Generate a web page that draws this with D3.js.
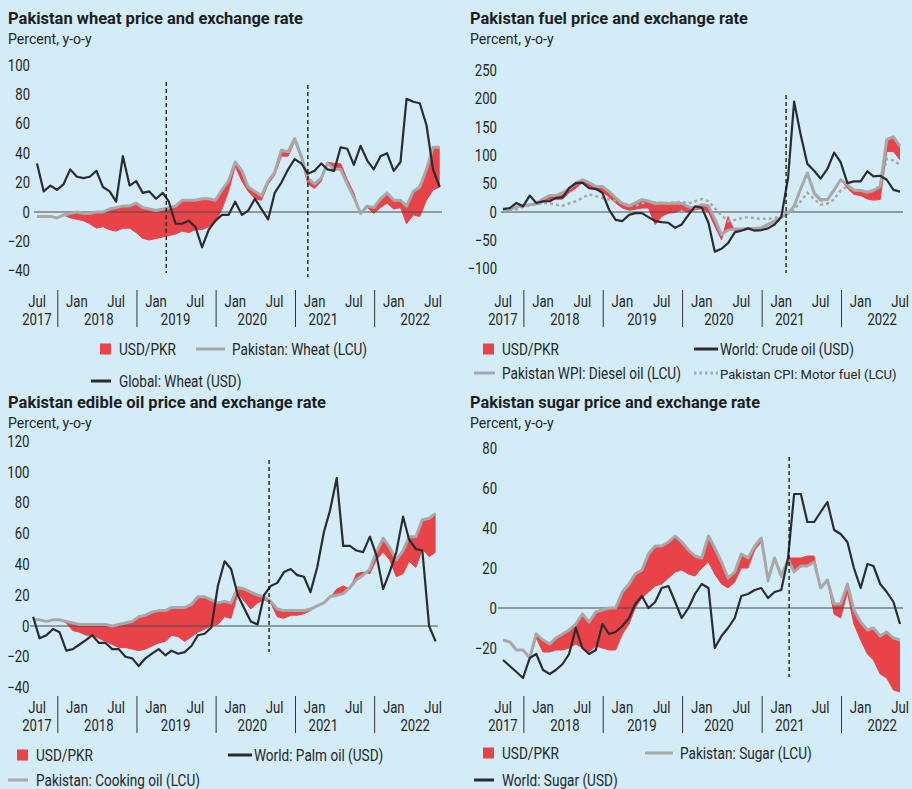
<!DOCTYPE html>
<html>
<head>
<meta charset="utf-8">
<script src="https://cdn.jsdelivr.net/npm/d3@7"></script>
<style>
  html, body { margin: 0; padding: 0; background: #d3ecf7; }
  svg { display: block; font-family: Roboto, sans-serif; }
</style>
</head>
<body>
<svg id="chart" width="912" height="789"></svg>
<script>
// ---- data (percent, y-o-y) ----

// wheat: Jul 2017 .. Aug 2022
const wheatLcu = [-3,-3,-3,-4,-2,-1,0,-1,-1,0, 0,2,3,4,4,6,3,2,1,2, 3,4,8,8,8,9,9,8,15,21,
  34,28,17,14,11,21,27,42,41,50, 38,23,19,23,33,29,29,19,10,-1, 4,3,9,13,8,8,4,14,17,29, 44,44];
const wheatUsd = [-3,-3,-3,-4,-2,-4,-5,-6,-8,-11, -10,-12,-13,-11,-11,-14,-18,-19,-18,-17,
  -16,-15,-13,-14,-12,-12,-10,-7,2,14, 31,21,14,9,8,19,25,38,38,48, 36,19,16,21,34,33,33,22,13,-1,
  3,-1,3,6,2,3,-8,-2,-3,8, 15,17];
const wheatGlobal = [33,14,18,15,19,29,24,23,24,28, 17,14,7,38,18,21,13,14,9,13, 7,-8,-8,-6,-10,-24,-12,-6,-2,-2,
  7,-2,1,9,2,-5,13,20,29,36, 33,26,28,33,29,28,44,43,32,45, 35,29,38,40,28,34,77,75,74,59, 29,17];

// fuel: Jul 2017 .. Jul 2022
const fuelDiesel = [5,4,9,11,13,15,23,29,29,34, 41,51,57,52,45,45,36,25,15,11, 16,22,19,15,16,15,16,15,9,7,
  13,11,-12,-40,-32,-30,-30,-29,-29,-28, -22,-16,-9,-2,10,42,69,34,22,22, 39,57,48,39,38,35,38,45,128,133, 116];
const fuelDieselUsd = [5,4,9,11,13,13,17,22,22,23, 34,42,52,42,39,36,26,16,7,3, 5,7,7,-22,-8,-2,-1,4,-1,4,
  6,0,-25,-49,-8,-34,-32,-31,-31,-29, -24,-18,-11,-2,13,42,66,31,19,22, 36,57,42,31,29,23,21,22,107,107, 92];
const fuelMotor = [3,3,5,9,11,13,16,15,13,11, 15,19,25,31,28,25,22,19,16,11, 11,15,19,17,16,16,17,18,15,19,
  23,19,7,-6,-16,-14,-11,-9,-11,-12, -12,-11,-6,-2,4,19,34,23,13,15, 22,38,45,38,38,36,39,45,94,91, 83];
const fuelCrude = [5,7,16,10,29,16,19,19,25,26, 42,51,52,42,41,34,4,-14,-16,-5, -2,-2,-9,-16,-18,-19,-28,-22,-5,10,
  8,-19,-70,-65,-55,-36,-33,-29,-33,-32, -29,-22,-9,60,195,135,85,73,59,76, 105,88,51,54,54,72,63,64,57,39, 36];

// edible oil: Jun 2017 .. Jul 2022 (mid-month)
const oilLcu = [4,4,3,4,4,3,2,1,1,1, 1,1,0,1,2,3,6,7,9,10, 10,12,12,12,14,19,19,17,15,16,
  15,25,24,22,20,19,16,11,10,10, 10,10,11,13,15,19,20,21,25,30, 33,37,48,57,51,43,49,58,58,69, 70,73];
const oilUsd = [4,4,3,4,4,2,-3,-4,-6,-6, -8,-10,-12,-14,-14,-15,-16,-15,-13,-11, -10,-6,-7,-10,-7,-4,-2,0,1,6,
  5,21,16,11,15,17,15,6,5,7, 7,8,10,13,15,18,24,26,24,34, 35,34,43,48,43,32,34,42,38,50, 45,48];
const oilPalm = [6,-8,-6,-2,-4,-16,-15,-12,-9,-6, -11,-11,-15,-15,-20,-21,-26,-21,-18,-15,
  -19,-16,-18,-17,-13,-6,-5,-1,26,42, 37,20,11,3,1,20,26,28,35,37, 33,32,22,38,61,75,96,52,52,49,
  48,58,46,24,35,48,71,56,50,49, 0,-10];

// sugar: Jul 2017 .. Jul 2022
const sugarLcu = [-16,-17,-21,-21,-25,-13,-16,-18,-15,-13, -11,-8,-3,-7,-2,-1,0,0,8,12, 17,19,27,31,31,33,36,33,29,26,
  25,36,30,23,15,18,27,25,31,35, 14,25,16,24,18,21,21,23,10,14, 2,2,12,-1,-7,-11,-10,-14,-12,-15, -16];
const sugarUsd = [-16,-17,-21,-21,-25,-15,-22,-22,-21,-21, -20,-18,-20,-22,-19,-20,-21,-21,-13,-8, 0,5,8,11,12,15,18,19,17,16,
  20,23,17,12,10,13,20,20,29,33, 13,24,15,25,25,25,26,26,10,14, -3,-5,8,-8,-16,-23,-26,-33,-35,-41, -42];
const sugarWorld = [-26,-29,-32,-35,-25,-23,-31,-33,-31,-28, -23,-10,-20,-23,-21,-8,-13,-12,-9,-5, 2,6,0,3,10,11,3,-5,0,7,
  12,10,-20,-14,-10,-5,6,7,9,10, 5,8,9,25,57,57,43,43,48,53, 39,37,33,20,10,22,21,12,8,3, -8];

// axis ticks
const wheatTicks = [-40,-20,0,20,40,60,80,100];
const fuelTicks = [-100,-50,0,50,100,150,200,250];
const oilTicks = [-40,-20,0,20,40,60,80,100,120];
const sugarTicks = [-20,0,20,40,60,80];
const yearLabels = [['2017', new Date(2017,6,1)], ['2018', new Date(2018,3,12)], ['2019', new Date(2019,3,1)],
  ['2020', new Date(2020,2,20)], ['2021', new Date(2021,1,10)], ['2022', new Date(2022,3,10)]];

const red = '#e9434a', grey = '#a8a8a8', ink = '#2b2c32';
const svg = d3.select('#chart');

const monthsJul17 = d3.timeMonth.range(new Date(2017,6,1), new Date(2022,8,1));
const monthsJun17 = d3.timeMonth.range(new Date(2017,5,1), new Date(2022,7,1)).map(d => d3.timeDay.offset(d, 12));

function squeeze(sel, f) {
  sel.each(function () {
    const len = this.getComputedTextLength();
    d3.select(this).attr('textLength', len * f).attr('lengthAdjust', 'spacingAndGlyphs');
  });
}

function drawPanel(cfg) {
  const g = svg.append('g');
  const x = d3.scaleTime().domain([new Date(2017,6,1), new Date(2022,6,1)]).range(cfg.xRange);
  const y = d3.scaleLinear().domain(cfg.yDomain).range(cfg.yRange);
  const dates = cfg.dates.slice(0, cfg.lcu.length);

  g.append('text').attr('x', cfg.left).attr('y', cfg.top)
    .attr('font-size', 17).attr('font-weight', 700).attr('fill', '#1e1e1e')
    .attr('textLength', cfg.titleW).attr('lengthAdjust', 'spacingAndGlyphs')
    .text(cfg.title);
  g.append('text').attr('x', cfg.left).attr('y', cfg.top + 20)
    .attr('font-size', 15.5).attr('fill', '#262626')
    .text('Percent, y-o-y').call(squeeze, 0.91);

  // y labels
  g.append('g')
    .attr('transform', `translate(${cfg.yAxisX},0)`)
    .call(d3.axisLeft(y).tickValues(cfg.yTicks).tickSize(0).tickPadding(0))
    .call(a => a.select('.domain').remove())
    .attr('font-size', null).attr('font-family', null)
    .selectAll('text').attr('font-size', 16).attr('fill', '#262626').call(squeeze, 0.82);

  // red band between local-currency and dollar series
  const rows = dates.map((d, i) => ({ d, a: cfg.lcu[i], b: cfg.usd[i] }));
  g.append('path').datum(rows).attr('fill', red)
    .attr('d', d3.area().x(r => x(r.d)).y0(r => y(r.a)).y1(r => y(r.b)));
  // thin outline so a one-sided spike still shows
  g.append('path').datum(rows).attr('fill', 'none').attr('stroke', red).attr('stroke-width', 1)
    .attr('d', d3.line().x(r => x(r.d)).y(r => y(r.b)));

  g.append('line').attr('x1', cfg.zeroX[0]).attr('x2', cfg.zeroX[1])
    .attr('y1', y(0)).attr('y2', y(0)).attr('stroke', '#4a4a4a').attr('stroke-width', 1);

  const line = d3.line().x((v, i) => x(dates[i])).y(v => y(v));
  if (cfg.dotted) {
    g.append('path').datum(cfg.dotted).attr('fill', 'none').attr('stroke', grey)
      .attr('stroke-width', 2.5).attr('stroke-dasharray', '3,3').attr('d', line);
  }
  g.append('path').datum(cfg.lcu).attr('fill', 'none').attr('stroke', grey)
    .attr('stroke-width', 3).attr('stroke-linejoin', 'round').attr('d', line);
  g.append('path').datum(cfg.world).attr('fill', 'none').attr('stroke', ink)
    .attr('stroke-width', 2.2).attr('stroke-linejoin', 'round').attr('d', line);

  // policy markers
  cfg.events.forEach(e => {
    g.append('line').attr('x1', x(e.d)).attr('x2', x(e.d)).attr('y1', e.y[0]).attr('y2', e.y[1])
      .attr('stroke', '#111').attr('stroke-width', 1.3).attr('stroke-dasharray', '4,3');
  });

  // x labels
  const ticks = d3.timeMonth.every(6).range(new Date(2017,6,1), new Date(2022,7,1));
  g.selectAll('.mlab').data(ticks).join('text')
    .attr('x', d => x(d)).attr('y', cfg.monthY).attr('text-anchor', 'middle')
    .attr('font-size', 16).attr('fill', '#262626').text(d3.timeFormat('%b')).call(squeeze, 0.82);
  g.selectAll('.ylab').data(yearLabels).join('text')
    .attr('x', d => x(d[1])).attr('y', cfg.monthY + 18).attr('text-anchor', 'middle')
    .attr('font-size', 16).attr('fill', '#262626').text(d => d[0]).call(squeeze, 0.82);
  g.selectAll('.sep').data(d3.range(2017, 2022)).join('line')
    .attr('x1', d => x(new Date(d, 9, 5))).attr('x2', d => x(new Date(d, 9, 5)))
    .attr('y1', cfg.monthY - 17).attr('y2', cfg.monthY + 20)
    .attr('stroke', '#333').attr('stroke-width', 1);

  // legend
  cfg.legend.forEach(it => {
    if (it.kind === 'rect') {
      g.append('rect').attr('x', it.x0).attr('y', it.y - 5.5).attr('width', 11).attr('height', 11).attr('fill', red);
    } else {
      g.append('line').attr('x1', it.x0).attr('x2', it.x1).attr('y1', it.y).attr('y2', it.y)
        .attr('stroke', it.kind === 'black' ? ink : grey).attr('stroke-width', 3)
        .attr('stroke-dasharray', it.kind === 'dots' ? '2.5,3' : null);
    }
    g.append('text').attr('x', it.tx).attr('y', it.y + 5.5)
      .attr('font-size', it.fs || 16).attr('fill', '#262626').text(it.label).call(squeeze, it.sq || 0.85);
  });
}

drawPanel({
  title: 'Pakistan wheat price and exchange rate', titleW: 295, left: 8, top: 24,
  xRange: [37, 433], yDomain: [-40, 100], yRange: [270.8, 65], yTicks: wheatTicks, yAxisX: 30,
  zeroX: [34, 442], dates: monthsJul17, lcu: wheatLcu, usd: wheatUsd, world: wheatGlobal,
  events: [{ d: new Date(2019,1,17), y: [82, 273] }, { d: new Date(2020,11,1), y: [85, 277] }],
  monthY: 307,
  legend: [
    { kind: 'rect', x0: 100, y: 349, tx: 119, label: 'USD/PKR' },
    { kind: 'grey', x0: 196, x1: 225, y: 349, tx: 232, label: 'Pakistan: Wheat (LCU)' },
    { kind: 'black', x0: 91, x1: 111, y: 381, tx: 119, label: 'Global: Wheat (USD)' }
  ]
});

drawPanel({
  title: 'Pakistan fuel price and exchange rate', titleW: 278, left: 470, top: 24,
  xRange: [503, 900], yDomain: [-100, 250], yRange: [268.6, 70.5], yTicks: fuelTicks, yAxisX: 497,
  zeroX: [501, 903], dates: monthsJul17, lcu: fuelDiesel, usd: fuelDieselUsd, world: fuelCrude, dotted: fuelMotor,
  events: [{ d: new Date(2021,0,23), y: [95, 273] }],
  monthY: 307,
  legend: [
    { kind: 'rect', x0: 483, y: 349, tx: 502, label: 'USD/PKR' },
    { kind: 'black', x0: 694, x1: 718, y: 349, tx: 720, label: 'World: Crude oil (USD)' },
    { kind: 'grey', x0: 474, x1: 495, y: 373, tx: 502, label: 'Pakistan WPI: Diesel oil (LCU)' },
    { kind: 'dots', x0: 694, x1: 718, y: 373, tx: 720, label: 'Pakistan CPI: Motor fuel (LCU)', fs: 13.5, sq: 0.97 }
  ]
});

drawPanel({
  title: 'Pakistan edible oil price and exchange rate', titleW: 318, left: 8, top: 408,
  xRange: [37, 433], yDomain: [-40, 120], yRange: [687.6, 441.2], yTicks: oilTicks, yAxisX: 29.5,
  zeroX: [30, 438], dates: monthsJun17, lcu: oilLcu, usd: oilUsd, world: oilPalm,
  events: [{ d: new Date(2020,5,5), y: [460, 652] }],
  monthY: 713,
  legend: [
    { kind: 'rect', x0: 17, y: 755, tx: 36, label: 'USD/PKR' },
    { kind: 'black', x0: 228, x1: 252, y: 755, tx: 254, label: 'World: Palm oil (USD)' },
    { kind: 'grey', x0: 8, x1: 28, y: 780, tx: 36, label: 'Pakistan: Cooking oil (LCU)' }
  ]
});

drawPanel({
  title: 'Pakistan sugar price and exchange rate', titleW: 290, left: 470, top: 408,
  xRange: [503, 900], yDomain: [-20, 80], yRange: [648, 448], yTicks: sugarTicks, yAxisX: 497,
  zeroX: [498, 903], dates: monthsJul17, lcu: sugarLcu, usd: sugarUsd, world: sugarWorld,
  events: [{ d: new Date(2021,1,6), y: [457, 677] }],
  monthY: 713,
  legend: [
    { kind: 'rect', x0: 483, y: 753, tx: 502, label: 'USD/PKR' },
    { kind: 'grey', x0: 645, x1: 673, y: 753, tx: 680, label: 'Pakistan: Sugar (LCU)' },
    { kind: 'black', x0: 474, x1: 494, y: 780, tx: 502, label: 'World: Sugar (USD)' }
  ]
});
</script>
</body>
</html>
